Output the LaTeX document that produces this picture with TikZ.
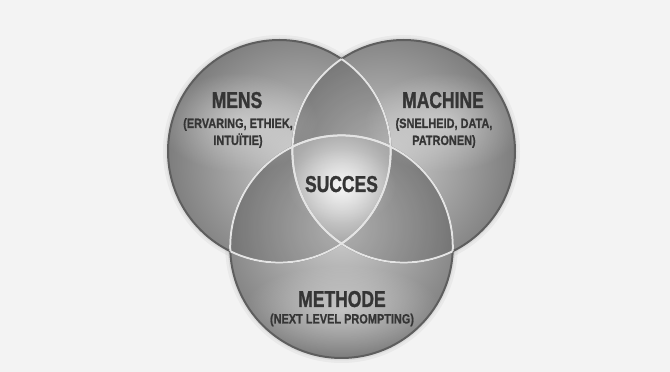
\documentclass[tikz,border=0pt]{standalone}
\usepackage{fontspec}
\setmainfont{Liberation Sans}
\newfontfamily\bigfont{Liberation Sans}[FakeStretch=0.76,FakeBold=1.2]
\newfontfamily\smallfont{Liberation Sans}[FakeStretch=0.81,FakeBold=0.8]
\usetikzlibrary{fadings}
\definecolor{bgc}{HTML}{F3F3F3}
\definecolor{txt}{HTML}{353535}
\definecolor{edgec}{HTML}{5E5E5E}
\definecolor{innerc}{HTML}{E4E4E4}
\tikzfading[name=glowfade, inner color=transparent!0, outer color=transparent!100]
\tikzset{
  bigtext/.style={font=\bigfont\bfseries\fontsize{23}{26}\selectfont, text=txt, anchor=base, inner sep=0pt},
  smalltext/.style={font=\smallfont\bfseries\fontsize{13.5}{15}\selectfont, text=txt, anchor=base, inner sep=0pt},
  glow/.style={fill=white, path fading=glowfade},
  outerline/.style={draw=edgec, line width=2pt},
  innerline/.style={draw=innerc, line width=2pt},
  lens/.style={fill=black, opacity=0.15},
}
\begin{document}
\begin{tikzpicture}[x=1pt,y=1pt]
\useasboundingbox (0,0) rectangle (670,372);
\fill[bgc] (0,0) rectangle (670,372);
\def\rr{111.3}
\coordinate (L) at (279.3,220.7);
\coordinate (R) at (403.7,220.7);
\coordinate (B) at (341.5,125.3);
\coordinate (S) at (341.5,186);
% soft shadow
\foreach \c in {L,R,B}{
  \fill[black, opacity=0.04] (\c) circle (\rr+5);
  \fill[black, opacity=0.05] (\c) circle (\rr+2.5);
}
% circles
\begin{scope}
  \clip (L) circle (\rr);
  \shade[inner color=black!19, outer color=black!52] (302,212) circle (\rr+28);
\end{scope}
\begin{scope}
  \clip (R) circle (\rr);
  \shade[inner color=black!19, outer color=black!52] (381,212) circle (\rr+28);
\end{scope}
\begin{scope}
  \clip (B) circle (\rr);
  \shade[inner color=black!19, outer color=black!52] (341.5,145) circle (\rr+28);
\end{scope}
% lens darkening
\begin{scope}
  \clip (L) circle (\rr);
  \fill[lens] (R) circle (\rr);
  \fill[lens] (B) circle (\rr);
\end{scope}
\begin{scope}
  \clip (R) circle (\rr);
  \fill[lens] (B) circle (\rr);
\end{scope}
% central region
\begin{scope}
  \clip (L) circle (\rr);
  \clip (R) circle (\rr);
  \clip (B) circle (\rr);
  \shade[inner color=black!5, outer color=black!40] (S) circle (68);
\end{scope}
% glows
\fill[glow, opacity=0.4] (238,250) ellipse (80 and 50);
\fill[glow, opacity=0.4] (444,250) ellipse (80 and 50);
\fill[glow, opacity=0.4] (342,62) ellipse (100 and 45);
\fill[glow, opacity=0.3] (S) ellipse (55 and 38);
% outlines
\foreach \c in {L,R,B} \draw[outerline] (\c) circle (\rr);
\begin{scope}\clip (R) circle (\rr); \draw[innerline] (L) circle (\rr); \end{scope}
\begin{scope}\clip (B) circle (\rr); \draw[innerline] (L) circle (\rr); \end{scope}
\begin{scope}\clip (L) circle (\rr); \draw[innerline] (R) circle (\rr); \end{scope}
\begin{scope}\clip (B) circle (\rr); \draw[innerline] (R) circle (\rr); \end{scope}
\begin{scope}\clip (L) circle (\rr); \draw[innerline] (B) circle (\rr); \end{scope}
\begin{scope}\clip (R) circle (\rr); \draw[innerline] (B) circle (\rr); \end{scope}
% texts
\node[bigtext] (mens) at (237,264) {MENS};
\node[smalltext] (mens2) at (238,244) {(ERVARING, ETHIEK,};
\node[smalltext] (mens3) at (238,227) {INTUÏTIE)};
\node[bigtext] (machine) at (443,264) {MACHINE};
\node[smalltext] (machine2) at (444,244) {(SNELHEID, DATA,};
\node[smalltext] (machine3) at (444,227) {PATRONEN)};
\node[bigtext] (succes) at (341.5,180) {SUCCES};
\node[bigtext] (methode) at (342,65) {METHODE};
\node[smalltext] (methode2) at (342,48.5) {(NEXT LEVEL PROMPTING)};
\end{tikzpicture}
\end{document}
